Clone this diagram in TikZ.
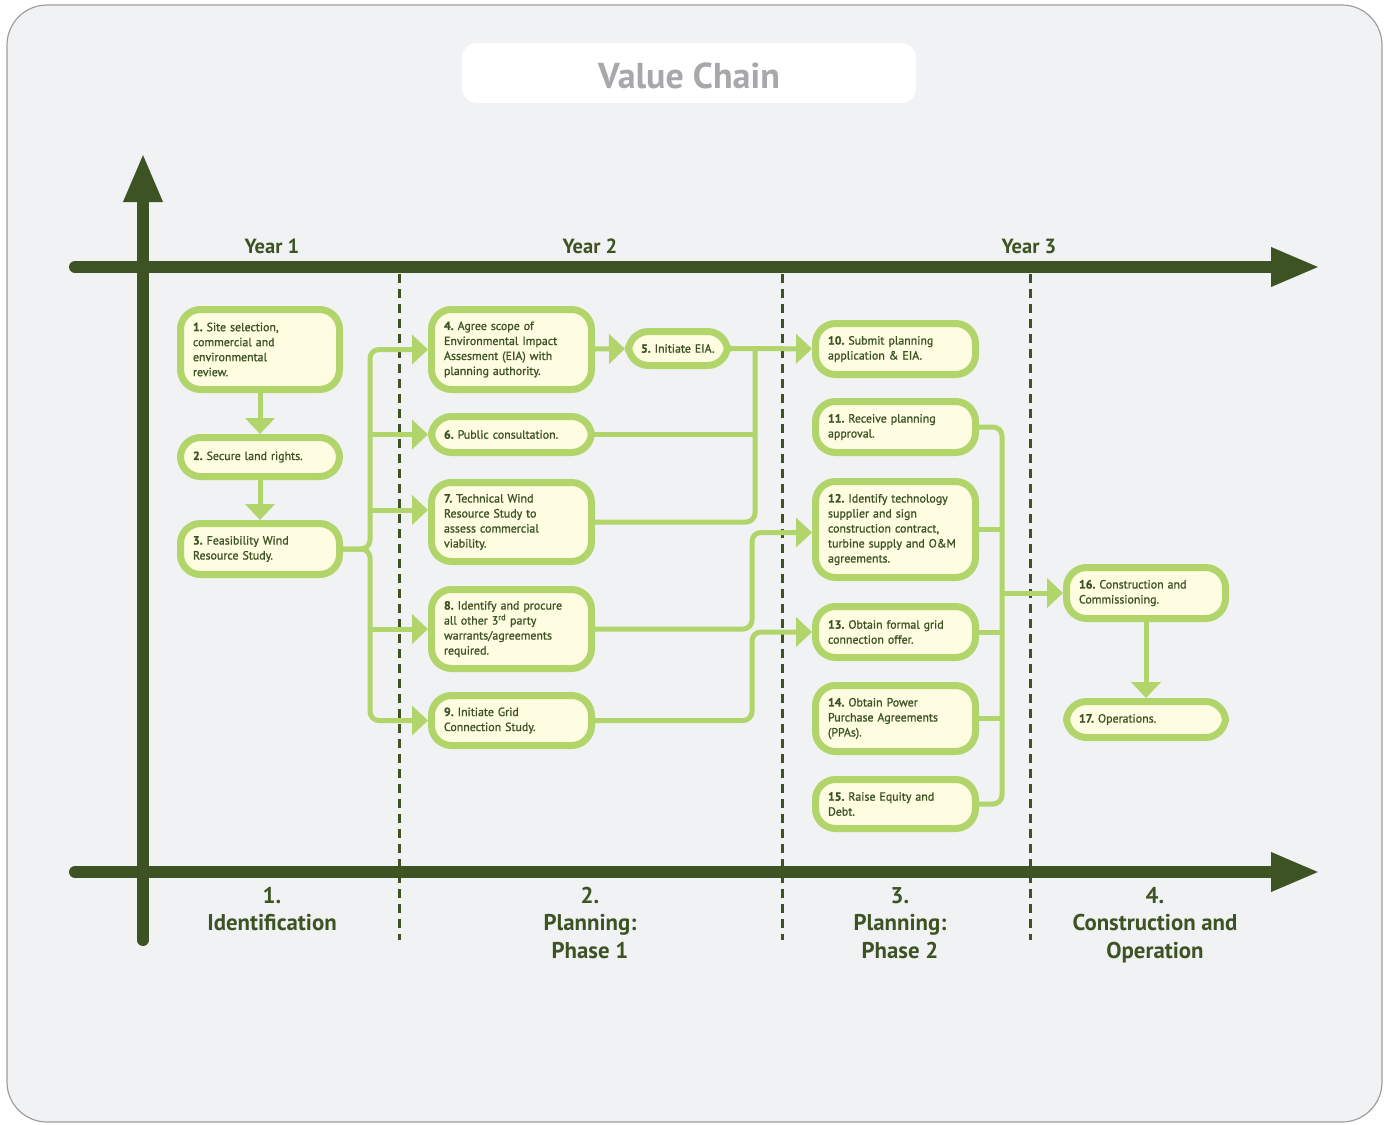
\documentclass[tikz,border=0pt]{standalone}
\usepackage{fontspec}
\setmainfont{PT Sans}
\newfontfamily\boxfont{PT Sans}[FakeBold=1.1]
\usetikzlibrary{arrows.meta}
\definecolor{dg}{HTML}{3D5324}
\definecolor{lg}{HTML}{B1D46B}
\definecolor{cr}{HTML}{FEFCE1}
\definecolor{bgc}{HTML}{F1F2F4}
\definecolor{tg}{HTML}{A7A8AB}
\frenchspacing
\hbadness=10000
\hfuzz=20pt
\tikzset{
  box/.style={draw=lg, line width=7pt, fill=cr, rounded corners=20pt, text=dg,
    align=left, inner xsep=12.5pt, inner ysep=0pt,
    font=\boxfont\fontsize{11.9}{15}\selectfont},
  conn/.style={draw=lg, line width=5pt, rounded corners=9pt},
  arr/.style={-{Triangle[length=16pt,width=29pt]}},
  axisline/.style={draw=dg, line width=12pt, line cap=round, -{Triangle[length=49pt,width=36pt]}},
  dashline/.style={draw=dg, line width=3pt, dash pattern=on 9pt off 6pt},
  yearlbl/.style={text=dg, font=\fontsize{20.5}{24}\selectfont\bfseries, inner sep=0pt},
  phaselbl/.style={text=dg, font=\fontsize{22.8}{27.5}\selectfont\bfseries, align=center, inner sep=0pt, anchor=north}
}
\newcommand\mybox[6]{\node[box, text width={#4-#2-32}, minimum height={#5-#3-7}] (#1) at ({(#2+#4)/2},{(#3+#5)/2}) {#6};}
\begin{document}
\begin{tikzpicture}[x=1pt, y=-1pt]
\useasboundingbox (0,0) rectangle (1388,1124);
\draw[draw=black!38, fill=bgc, line width=1.2pt, rounded corners=40pt] (7,5) rectangle (1382,1122);
\node[fill=white, rounded corners=15pt, minimum width=454pt, minimum height=60pt, inner sep=0pt,
  text=tg, font=\fontsize{36}{40}\selectfont\bfseries] (title) at (689,73) {\raisebox{-3pt}[\height][\depth]{Value Chain}};

% dashed separators
\draw[dashline] (399,274) -- (399,940);
\draw[dashline] (782,274) -- (782,940);
\draw[dashline] (1030,274) -- (1030,940);

% axes
\draw[axisline] (75,267) -- (1320,267);
\draw[axisline] (75,872) -- (1320,872);
\draw[axisline] (143,940) -- (143,153);

% labels
\node[yearlbl] (y1) at (272,246) {Year 1};
\node[yearlbl] (y2) at (590,246) {Year 2};
\node[yearlbl] (y3) at (1029,246) {Year 3};
\node[phaselbl] (p1) at (272,887) {1.\\Identification};
\node[phaselbl] (p2) at (590,887) {2.\\Planning:\\Phase 1};
\node[phaselbl] (p3) at (900,887) {3.\\Planning:\\Phase 2};
\node[phaselbl] (p4) at (1155,887) {4.\\Construction and\\Operation};

% boxes
\mybox{n1}{177}{306}{343}{393}{\textbf{1.} Site selection,\\commercial and\\environmental\\review.}
\mybox{n2}{177}{434}{343}{480}{\textbf{2.} Secure land rights.}
\mybox{n3}{177}{520}{343}{578}{\textbf{3.} Feasibility Wind\\Resource Study.}
\mybox{n4}{428}{306}{595}{393}{\textbf{4.} Agree scope of\\Environmental Impact\\Assesment (EIA) with\\planning authority.}
\mybox{n5}{625}{328}{731}{369}{\mbox{\textbf{5.} Initiate EIA.}}
\mybox{n6}{428}{413}{595}{456}{\textbf{6.} Public consultation.}
\mybox{n7}{428}{479}{595}{565}{\textbf{7.} Technical Wind\\Resource Study to\\assess commercial\\viability.}
\mybox{n8}{428}{586}{595}{672}{\textbf{8.} Identify and procure\\all other 3\textsuperscript{rd} party\\warrants/agreements\\required.}
\mybox{n9}{428}{692}{595}{749}{\textbf{9.} Initiate Grid\\Connection Study.}
\mybox{n10}{812}{320}{979}{378}{\textbf{10.} Submit planning\\application \& EIA.}
\mybox{n11}{812}{398}{979}{456}{\textbf{11.} Receive planning\\approval.}
\mybox{n12}{812}{478}{979}{581}{\textbf{12.} Identify technology\\supplier and sign\\construction contract,\\\mbox{turbine supply and O\&M}\\agreements.}
\mybox{n13}{812}{603}{979}{661}{\textbf{13.} Obtain formal grid\\connection offer.}
\mybox{n14}{812}{682}{979}{755}{\textbf{14.} Obtain Power\\Purchase Agreements\\(PPAs).}
\mybox{n15}{812}{776}{979}{832}{\textbf{15.} Raise Equity and\\Debt.}
\mybox{n16}{1063}{564}{1229}{622}{\textbf{16.} Construction and\\Commissioning.}
\mybox{n17}{1063}{698}{1229}{741}{\textbf{17.} Operations.}

% bus coordinates
\coordinate (bA) at (370,549);
\coordinate (bB) at (755,349);
\coordinate (bC) at (752,600);
\coordinate (bD) at (1002,600);
\coordinate (n7in) at ([yshift=12pt]n7.west);
\coordinate (n12in) at ([yshift=-3pt]n12.west);

% connectors
\draw[conn,arr] (n1) -- (n2);
\draw[conn,arr] (n2) -- (n3);
\draw[conn,arr] (n3.east) -- (bA) |- (n4.west);
\draw[conn,arr] (n3.east) -- (bA) |- (n9.west);
\draw[conn,arr] (bA |- n6.west) -- (n6.west);
\draw[conn,arr] (bA |- n7in) -- (n7in);
\draw[conn,arr] (bA |- n8.west) -- (n8.west);
\draw[conn,arr] (n4) -- (n5);
\draw[conn,arr] (n5) -- (n10);
\draw[conn] (n7.east) -| (bB);
\draw[conn] (n6.east) -- (bB |- n6.east);
\draw[conn,arr] (n8.east) -- (bC |- n8.east) -- (bC |- n12in) -- (n12in);
\draw[conn,arr] (n9.east) -- (bC |- n9.east) -- (bC |- n13.west) -- (n13.west);
\draw[conn] (n11.east) -| (bD) |- (n15.east);
\draw[conn] (n12.east) -- (bD |- n12.east);
\draw[conn] (n13.east) -- (bD |- n13.east);
\draw[conn] (n14.east) -- (bD |- n14.east);
\draw[conn,arr] (bD |- n16.west) -- (n16.west);
\draw[conn,arr] (n16) -- (n17);
\end{tikzpicture}
\end{document}
